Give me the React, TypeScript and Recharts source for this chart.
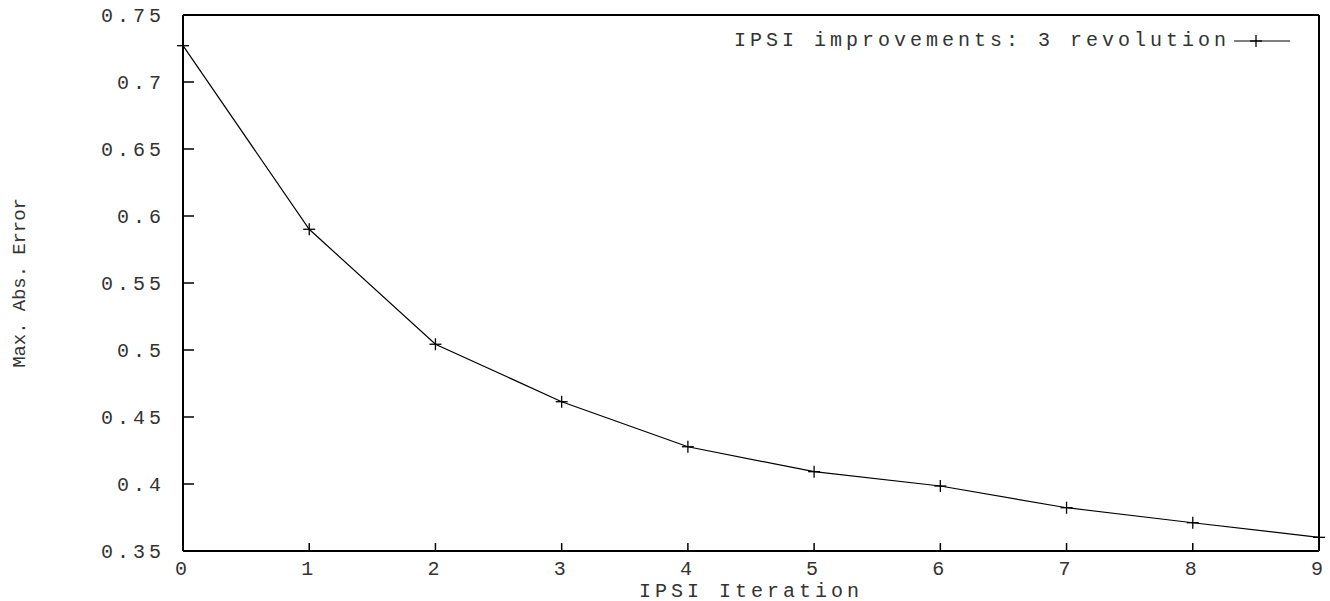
import { Legend, Line, LineChart, XAxis, YAxis } from "recharts";

const iterations = [0, 1, 2, 3, 4, 5, 6, 7, 8, 9];
const maxAbsError = [
  0.7271, 0.5901, 0.5043, 0.4614, 0.4278, 0.4092, 0.3985, 0.3823, 0.3711,
  0.3602,
];
const xTicks = [0, 1, 2, 3, 4, 5, 6, 7, 8, 9];
const yTicks = [0.35, 0.4, 0.45, 0.5, 0.55, 0.6, 0.65, 0.7, 0.75];
const seriesName = "IPSI improvements: 3 revolution";

const data = iterations.map((x, i) => ({ x, err: maxAbsError[i] }));

const FONT = "'Liberation Mono', 'DejaVu Sans Mono', monospace";
const tickFont = { fontFamily: FONT, fontSize: 20, letterSpacing: 4, fill: "#333" };
const frame = { stroke: "#000", strokeWidth: 2 };
const tickStroke = { stroke: "#000", strokeWidth: 1.5 };

const PlusDot = (props: any) => {
  const { cx, cy } = props;
  if (cx == null || cy == null) return null;
  return (
    <g stroke="#000" strokeWidth={1.3}>
      <line x1={cx - 6} y1={cy} x2={cx + 6} y2={cy} />
      <line x1={cx} y1={cy - 6} x2={cx} y2={cy + 6} />
    </g>
  );
};

const LegendBox = () => (
  <div style={{ display: "flex", alignItems: "center", fontFamily: FONT }}>
    <span style={{ fontSize: 20, letterSpacing: 4, lineHeight: "22px", color: "#333" }}>
      {seriesName}
    </span>
    <svg width={56} height={22} style={{ marginLeft: 4 }}>
      <line x1={0} y1={11} x2={56} y2={11} stroke="#000" strokeWidth={1.2} />
      <line x1={22} y1={5} x2={22} y2={17} stroke="#000" strokeWidth={1.3} />
      <line x1={16} y1={11} x2={28} y2={11} stroke="#000" strokeWidth={1.3} />
    </svg>
  </div>
);

const YTitle = ({ viewBox }: any) => {
  const cx = viewBox.x + 20;
  const cy = viewBox.y + viewBox.height / 2;
  return (
    <text
      x={cx}
      y={cy}
      transform={`rotate(-90 ${cx} ${cy})`}
      textAnchor="middle"
      dominantBaseline="central"
      fontFamily={FONT}
      fontSize={19}
      letterSpacing={-0.1}
      fill="#333"
    >
      Max. Abs. Error
    </text>
  );
};

const XTitle = ({ viewBox }: any) => {
  const cx = viewBox.x + viewBox.width / 2;
  return (
    <text
      x={cx}
      y={viewBox.y + 40}
      textAnchor="middle"
      dominantBaseline="central"
      fontFamily={FONT}
      fontSize={20}
      letterSpacing={4}
      fill="#333"
    >
      IPSI Iteration
    </text>
  );
};

export default function App() {
  return (
    <div style={{ position: "absolute", left: 0, top: 0, background: "#fff" }}>
      <LineChart
        width={1330}
        height={601}
        data={data}
        margin={{ top: 14, right: 10, bottom: 0, left: 0 }}
      >
        <XAxis
          dataKey="x"
          type="number"
          domain={[0, 9]}
          ticks={xTicks}
          height={50}
          axisLine={frame}
          tickLine={tickStroke}
          tickSize={-8}
          tickMargin={18}
          tick={tickFont}
          label={<XTitle />}
        />
        <XAxis
          xAxisId="top"
          dataKey="x"
          orientation="top"
          type="number"
          domain={[0, 9]}
          ticks={xTicks}
          height={1}
          axisLine={frame}
          tickLine={tickStroke}
          tickSize={-8}
          tick={false}
        />
        <YAxis
          type="number"
          domain={[0.35, 0.75]}
          ticks={yTicks}
          width={183}
          axisLine={frame}
          tickLine={tickStroke}
          tickSize={-11}
          tickMargin={29}
          tick={tickFont}
          tickFormatter={(v: number) => String(+v.toFixed(2))}
          label={<YTitle />}
        />
        <YAxis
          yAxisId="right"
          orientation="right"
          type="number"
          domain={[0.35, 0.75]}
          ticks={yTicks}
          width={1}
          axisLine={frame}
          tickLine={tickStroke}
          tickSize={-11}
          tick={false}
        />
        <Legend
          layout="vertical"
          align="center"
          verticalAlign="middle"
          content={<LegendBox />}
          wrapperStyle={{ top: 30, right: 40, left: "auto", width: "auto" }}
        />
        <Line
          dataKey="err"
          xAxisId="top"
          yAxisId="right"
          stroke="none"
          dot={false}
          activeDot={false}
          legendType="none"
          isAnimationActive={false}
        />
        <Line
          dataKey="err"
          name={seriesName}
          type="linear"
          stroke="#000"
          strokeWidth={1.2}
          dot={<PlusDot />}
          activeDot={false}
          isAnimationActive={false}
        />
      </LineChart>
    </div>
  );
}
